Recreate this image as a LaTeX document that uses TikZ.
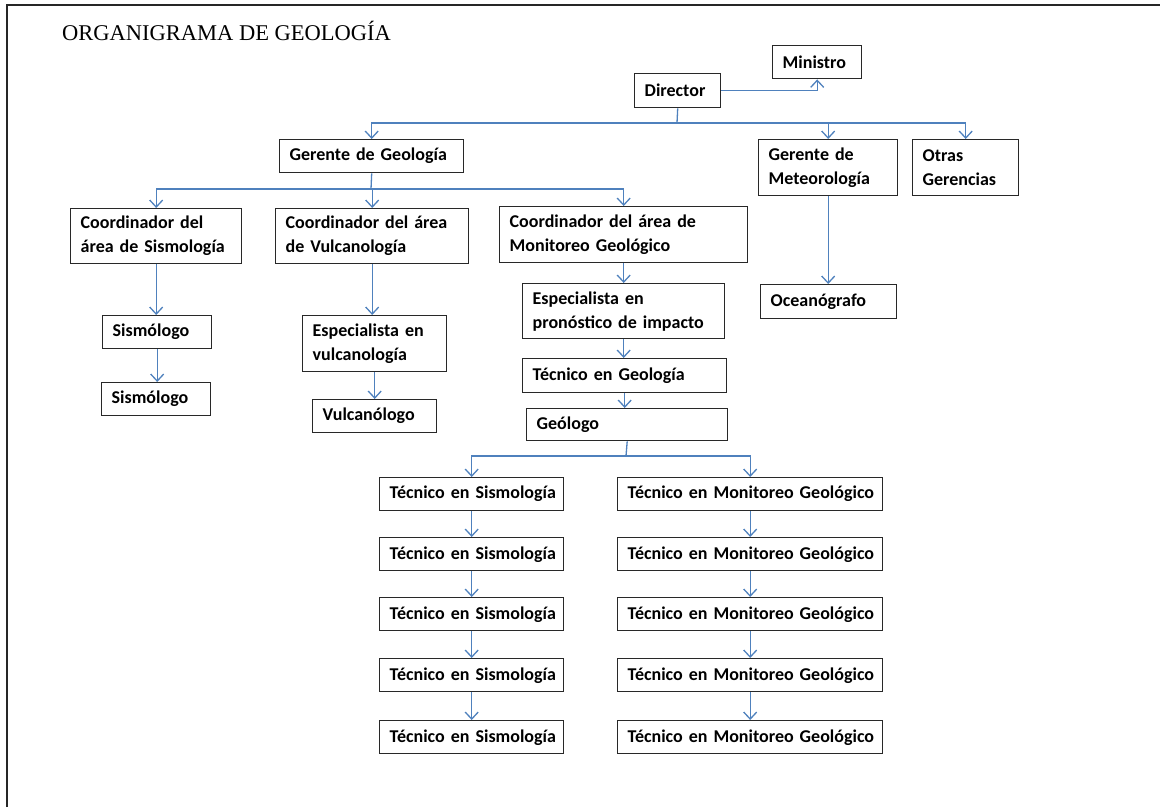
\documentclass[tikz,border=0pt]{standalone}
\usepackage{fontspec}
\setmainfont{Carlito}
\newfontfamily\titlefont{Liberation Serif}
\usetikzlibrary{arrows.meta}
\definecolor{linkblue}{RGB}{79,129,189}
\definecolor{boxline}{RGB}{40,40,40}
\tikzset{
  box/.style={draw=boxline, line width=1.4pt, anchor=north west, align=left,
    inner xsep=10pt, inner ysep=0pt, font=\fontsize{18}{24}\selectfont\bfseries},
  link/.style={draw=linkblue, line width=1.3pt},
  conn/.style={link, -{Straight Barb[length=7pt,width=13pt,line width=1.3pt]}}
}
\begin{document}
\begin{tikzpicture}[x=1pt,y=-1pt]
\useasboundingbox (0,0) rectangle (1160,807);
% page frame
\draw[line width=2.2pt, black!85] (7,807) -- (7,5) -- (1160,5);
\node[anchor=base west, font=\titlefont\fontsize{22.5}{26}\selectfont, inner sep=0pt] (title) at (62,40) {ORGANIGRAMA DE GEOLOGÍA};

% top level
\node[box, text width=69pt, minimum height=33pt] (min) at (772,45) {Ministro};
\node[box, text width=66pt, minimum height=34pt] (dir) at (634,73) {Director};

% managers
\node[box, text width=164pt, minimum height=33pt] (gg) at (279,139) {Gerente de Geología};
\node[box, text width=119pt, minimum height=56pt] (gm) at (758,139) {Gerente de\\Meteorología};
\node[box, text width=86pt, minimum height=56pt] (og) at (912,139) {Otras\\Gerencias};

% coordinators
\node[box, text width=151pt, minimum height=55pt] (cs) at (70,208) {Coordinador del\\área de Sismología};
\node[box, text width=173pt, minimum height=55pt] (cv) at (275,208) {Coordinador del área\\de Vulcanología};
\node[box, text width=228pt, minimum height=56pt] (cm) at (499,206) {Coordinador del área de\\Monitoreo Geológico};

% seismology branch
\node[box, text width=89pt, minimum height=33pt] (s1) at (102,315) {Sismólogo};
\node[box, text width=89pt, minimum height=33pt] (s2) at (101,382) {Sismólogo};

% volcanology branch
\node[box, text width=124pt, minimum height=56pt] (ev) at (302,315) {Especialista en\\vulcanología};
\node[box, text width=104pt, minimum height=33pt] (vu) at (312,399) {Vulcanólogo};

% monitoring branch
\node[box, text width=182pt, minimum height=55pt] (ep) at (522,283) {Especialista en\\pronóstico de impacto};
\node[box, text width=184pt, minimum height=34pt] (tg) at (522,358) {Técnico en Geología};
\node[box, text width=181pt, minimum height=32pt] (geo) at (526,408) {Geólogo};

% meteorology branch
\node[box, text width=116pt, minimum height=34pt] (oc) at (760,284) {Oceanógrafo};

% technicians
\foreach \i/\y in {1/477,2/537,3/597,4/658,5/720}{
  \node[box, text width=164pt, minimum height=33pt] (ts\i) at (379,\y) {\mbox{Técnico en Sismología}};
  \node[box, text width=245pt, minimum height=33pt] (tm\i) at (617,\y) {\mbox{Técnico en Monitoreo Geológico}};
}

% connectors
\draw[conn] (dir.east) -| (min.south);
\coordinate (busA) at (677,123);
\draw[link] (dir.south) -- (busA);
\draw[conn] (busA) -| (gg.north);
\draw[conn] (busA) -| (gm.north);
\draw[conn] (busA) -| (og.north);

\coordinate (busB) at (371,189);
\draw[link] (gg.south) -- (busB);
\draw[conn] (busB) -| (cs.north);
\draw[conn] (busB) -| (cv.north);
\draw[conn] (busB) -| (cm.north);

\draw[conn] (cs.south) -- (cs.south |- s1.north);
\draw[conn] (s1.south) -- (s1.south |- s2.north);
\draw[conn] (cv.south) -- (cv.south |- ev.north);
\draw[conn] (ev.south) -- (ev.south |- vu.north);
\draw[conn] (cm.south) -- (cm.south |- ep.north);
\draw[conn] (ep.south) -- (ep.south |- tg.north);
\draw[conn] (tg.south) -- (tg.south |- geo.north);
\draw[conn] (gm.south) -- (gm.south |- oc.north);

\coordinate (busC) at (626,456);
\draw[link] (geo.south) -- (busC);
\draw[conn] (busC) -| (ts1.north);
\draw[conn] (busC) -| (tm1.north);
\foreach \a/\b in {1/2,2/3,3/4,4/5}{
  \draw[conn] (ts\a.south) -- (ts\b.north);
  \draw[conn] (tm\a.south) -- (tm\b.north);
}
\end{tikzpicture}
\end{document}
